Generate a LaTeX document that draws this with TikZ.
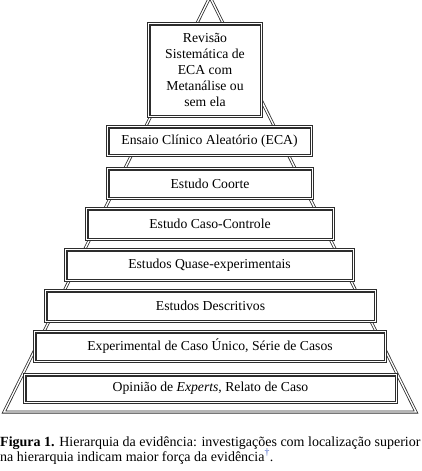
\documentclass[tikz,border=0pt]{standalone}
\usepackage{fontspec}
\setmainfont{Liberation Serif}
\definecolor{linkblue}{RGB}{70,100,200}
\definecolor{edge}{RGB}{45,45,45}
\begin{document}
\begin{tikzpicture}[x=1pt,y=-1pt,
  lvl/.style={draw=edge, line width=1.1pt, double=white, double distance=1.3pt, fill=white,
    inner sep=0pt, font=\fontsize{13.7}{16}\selectfont, align=center},
  pyr/.style={draw=edge, line width=0.8pt, double=white, double distance=1.4pt, line join=miter},
  captxt/.style={anchor=base west, inner sep=0pt, font=\fontsize{14}{13}\selectfont}]
\useasboundingbox (0,0) rectangle (422,471);
\begin{scope}
  \clip (0,0) rectangle (422,471);
  \draw[pyr] (210,-3) -- (4,412) -- (416,412) -- cycle;
\end{scope}
\node[lvl, minimum width=112.5pt, minimum height=92.5pt] (rs) at (205,70)
  {Revisão\\Sistemática de\\ECA com\\Metanálise ou\\sem ela};
\node[lvl, minimum width=203.5pt, minimum height=28.5pt] (eca) at (209.5,141) {Ensaio Clínico Aleatório (ECA)};
\node[lvl, minimum width=204.5pt, minimum height=29.5pt] (coorte) at (210,183.5) {Estudo Coorte};
\node[lvl, minimum width=246.5pt, minimum height=30.5pt] (caso) at (210,224) {Estudo Caso-Controle};
\node[lvl, minimum width=287.5pt, minimum height=30.5pt] (quase) at (209.5,265) {Estudos Quase-experimentais};
\node[lvl, minimum width=329.5pt, minimum height=30.5pt] (desc) at (210.5,306) {Estudos Descritivos};
\node[lvl, minimum width=350.5pt, minimum height=29.5pt] (exp) at (210,346.5) {Experimental de Caso Único, Série de Casos};
\node[lvl, minimum width=371.5pt, minimum height=27.5pt] (op) at (210.5,388.5) {Opinião de \textit{Experts}, Relato de Caso};
\node[captxt] (cap1) at (0,446) {\textbf{Figura 1.} Hierarquia da evidência: investigações com localização superior};
\node[captxt] (cap2) at (0,461) {na hierarquia indicam maior força da evidência\textsuperscript{\textcolor{linkblue}{†}}.};
\end{tikzpicture}
\end{document}
